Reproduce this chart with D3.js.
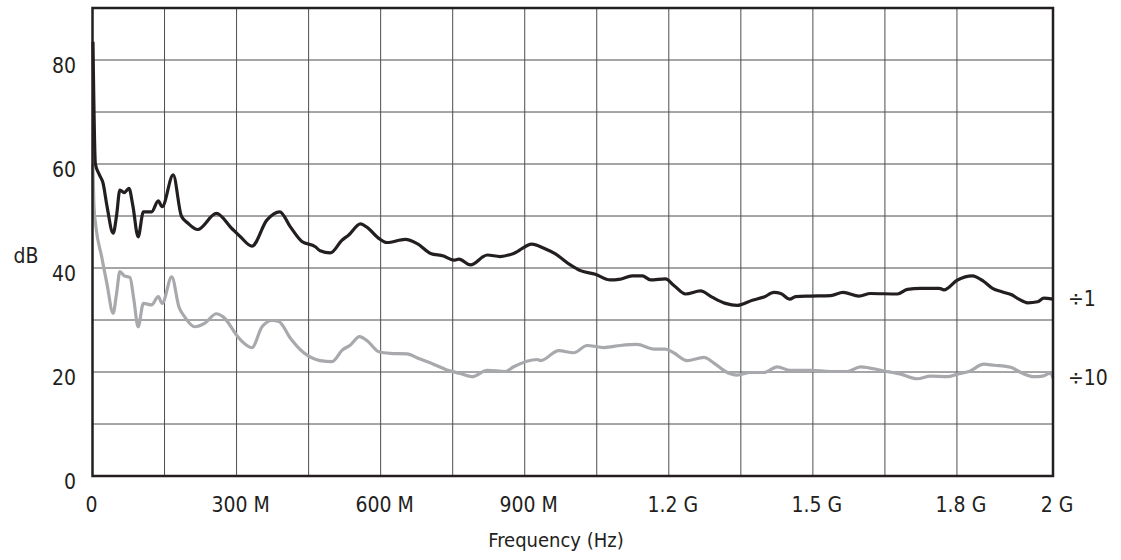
<!DOCTYPE html>
<html>
<head>
<meta charset="utf-8">
<script src="https://cdn.jsdelivr.net/npm/d3@7"></script>
<style>
  body { margin: 0; background: #fff; }
  svg text { font-family: "Liberation Sans Narrow", "DejaVu Sans Condensed", "Liberation Sans", sans-serif; fill: #231f20; }
</style>
</head>
<body>
<svg width="1121" height="560"></svg>
<script>
// frequency in MHz, level in dB
var freqDiv1 = [1, 6, 14, 22, 30, 43, 50, 57, 66, 76, 84, 95, 106, 123, 137, 145, 168, 185, 199, 219, 258, 290, 308, 332, 363, 390, 412, 436, 464, 474, 495, 520, 533, 558, 572, 596, 613, 651, 676, 704, 731, 752, 763, 787, 822, 849, 877, 915, 940, 964, 995, 1016, 1047, 1078, 1096, 1124, 1145, 1162, 1193, 1210, 1235, 1266, 1290, 1318, 1342, 1374, 1398, 1419, 1433, 1452, 1464, 1495, 1537, 1563, 1596, 1620, 1676, 1697, 1724, 1763, 1773, 1801, 1832, 1856, 1874, 1895, 1915, 1929, 1947, 1968, 1981, 2000];
var dbDiv1 = [83.5, 60, 58, 56.3, 52, 46.7, 50, 55, 54.5, 55.3, 52, 46, 50.8, 50.8, 52.9, 51.8, 57.9, 50, 48.6, 47.4, 50.5, 47.6, 46, 44.2, 49.2, 50.8, 47.9, 45.1, 44.1, 43.3, 42.9, 45.4, 46.3, 48.5, 47.8, 45.7, 44.9, 45.5, 44.7, 42.8, 42.3, 41.5, 41.7, 40.6, 42.5, 42.2, 42.8, 44.6, 43.8, 42.7, 40.6, 39.5, 38.8, 37.7, 37.8, 38.5, 38.5, 37.7, 37.9, 36.7, 35.0, 35.6, 34.4, 33.2, 32.8, 33.8, 34.4, 35.3, 35.1, 34.0, 34.5, 34.6, 34.7, 35.3, 34.6, 35.1, 35.0, 35.9, 36.1, 36.1, 35.8, 37.7, 38.5, 37.4, 36.1, 35.4, 34.8, 34.0, 33.3, 33.5, 34.2, 34.0];

var freqDiv10 = [1, 3, 7, 19, 30, 43, 50, 57, 66, 78, 86, 95, 106, 123, 137, 145, 165, 180, 192, 213, 234, 258, 272, 306, 332, 353, 374, 388, 412, 440, 474, 499, 520, 537, 556, 572, 596, 620, 655, 679, 710, 738, 766, 790, 822, 860, 877, 926, 933, 971, 1002, 1030, 1065, 1099, 1134, 1169, 1193, 1210, 1238, 1273, 1294, 1318, 1342, 1370, 1398, 1426, 1453, 1495, 1537, 1572, 1599, 1648, 1683, 1717, 1745, 1780, 1801, 1825, 1856, 1877, 1912, 1933, 1960, 1978, 1995, 2000];
var dbDiv10 = [60, 52, 48, 42.2, 37, 31.3, 35, 39.3, 38.5, 38.2, 34, 28.7, 33.2, 32.9, 34.5, 33.2, 38.3, 32.5, 30.6, 28.7, 29.4, 31.2, 30.6, 26.4, 24.7, 28.7, 29.9, 29.7, 26.5, 23.7, 22.2, 22.0, 24.2, 25.2, 26.8, 26.0, 23.9, 23.6, 23.5, 22.6, 21.5, 20.4, 19.7, 19.1, 20.3, 20.1, 21.0, 22.4, 22.2, 24.1, 23.7, 25.1, 24.7, 25.1, 25.3, 24.4, 24.4, 23.7, 22.2, 22.8, 21.7, 20.1, 19.4, 19.9, 19.9, 21.0, 20.3, 20.3, 20.1, 20.1, 21.0, 20.2, 19.6, 18.7, 19.2, 19.1, 19.6, 20.1, 21.5, 21.3, 20.9, 19.9, 19.1, 19.2, 19.8, 18.8];

var xTicks = [0, 300, 600, 900, 1200, 1500, 1800, 2000];
var xTickLabels = ["0", "300 M", "600 M", "900 M", "1.2 G", "1.5 G", "1.8 G", "2 G"];
var xGrid = [150, 300, 450, 600, 750, 900, 1050, 1200, 1350, 1500, 1650, 1800];
var yTicks = [0, 20, 40, 60, 80];
var yGrid = [10, 20, 30, 40, 50, 60, 70, 80];

var svg = d3.select('svg');
var x = d3.scaleLinear().domain([0, 2000]).range([92.5, 1053]);
var y = d3.scaleLinear().domain([0, 90]).range([476, 8]);

// grid
svg.append("g").selectAll("line").data(xGrid).enter().append("line")
  .attr("x1", d => x(d)).attr("x2", d => x(d))
  .attr("y1", y(90)).attr("y2", y(0))
  .style("stroke", "#4d4d4d").style("stroke-width", 1);
svg.append("g").selectAll("line").data(yGrid).enter().append("line")
  .attr("x1", x(0)).attr("x2", x(2000))
  .attr("y1", d => y(d)).attr("y2", d => y(d))
  .style("stroke", "#4d4d4d").style("stroke-width", 1);

// curves
var line = function(fs, vs) {
  return d3.line().curve(d3.curveMonotoneX)
    .x((d, i) => x(fs[i])).y(d => y(d))(vs);
};
svg.append("path").attr("d", line(freqDiv10, dbDiv10))
  .style("fill", "none").style("stroke", "#a7a9ac").style("stroke-width", 3.2)
  .style("stroke-linejoin", "round");
svg.append("path").attr("d", line(freqDiv1, dbDiv1))
  .style("fill", "none").style("stroke", "#231f20").style("stroke-width", 3.2)
  .style("stroke-linejoin", "round");

// frame
svg.append("rect")
  .attr("x", x(0)).attr("y", y(90))
  .attr("width", x(2000) - x(0)).attr("height", y(0) - y(90))
  .style("fill", "none").style("stroke", "#231f20").style("stroke-width", 2.5);

// tick labels
svg.append("g").selectAll("text").data(yTicks).enter().append("text")
  .attr("x", 76).attr("y", d => y(d) + 13)
  .attr("text-anchor", "end").style("font-size", "21px")
  .text(d => d);
svg.append("g").selectAll("text").data(xTicks).enter().append("text")
  .attr("x", (d, i) => x(d) + (i == 0 ? -1 : 4)).attr("y", 512)
  .attr("text-anchor", "middle").style("font-size", "21px")
  .text((d, i) => xTickLabels[i]);

svg.append("text").attr("x", 26).attr("y", 263)
  .attr("text-anchor", "middle").style("font-size", "21px").text("dB");
svg.append("text").attr("x", 556).attr("y", 547)
  .attr("text-anchor", "middle").style("font-size", "20px").text("Frequency (Hz)");

// series labels
svg.append("text").attr("x", 1068).attr("y", 306).style("font-size", "21px").text("÷1");
svg.append("text").attr("x", 1068).attr("y", 385).style("font-size", "21px").text("÷10");
</script>
</body>
</html>
